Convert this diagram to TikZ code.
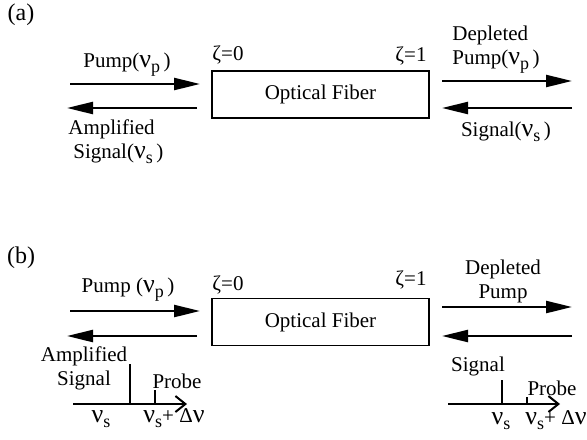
\documentclass[tikz,border=0pt]{standalone}
\usepackage{fontspec}
\setmainfont{Liberation Serif}
\usetikzlibrary{arrows.meta}
\newcommand{\bignu}{{\fontsize{13}{13}\selectfont ν}}
\newcommand{\nusub}[1]{\bignu\raisebox{-0.5ex}{\fontsize{9}{9}\selectfont #1}}

\begin{document}
\begin{tikzpicture}[x=0.5pt, y=-0.5pt,
  font=\fontsize{10.5}{12}\selectfont,
  fiber/.style={draw, line width=0.9pt, minimum width=108.5pt, minimum height=23.5pt, inner sep=0pt},
  beam/.style={line width=1.2pt, -{Triangle[length=13pt,width=6pt]}},
  axis/.style={line width=1pt, -{Straight Barb[length=5pt,width=8pt]}},
  tick/.style={line width=0.6pt},
  lbl/.style={inner sep=0pt}]
\useasboundingbox (0,0) rectangle (587,439);

% (a) pump and signal at opposite ends
\node[lbl, font=\fontsize{12}{12}\selectfont] (pa) at (21,15) {(a)};
\node[fiber] (fa) at (320.5,94.5) {Optical Fiber};
\node[lbl] (za0) at (228,55) {ζ=0};
\node[lbl] (za1) at (411,56) {ζ=1};
\node[lbl] (pumpa) at (127,65) {Pump(\nusub{p}\,)};
\node[lbl, align=left, anchor=west] (amplia) at (68,142) {Amplified\\\hspace{2.5pt}Signal(\nusub{s}\,)};
\node[lbl, align=left, anchor=west] (depla) at (452,50) {Depleted\\Pump(\nusub{p}\,)};
\node[lbl] (siga) at (506,132) {Signal(\nusub{s}\,)};
\coordinate (a1) at (70,84);  \coordinate (a2) at (200,84);
\coordinate (a3) at (197,108); \coordinate (a4) at (67,108);
\coordinate (a5) at (442,81); \coordinate (a6) at (572,81);
\coordinate (a7) at (572,108); \coordinate (a8) at (442,108);
\draw[beam] (a1) -- (a2);
\draw[beam] (a3) -- (a4);
\draw[beam] (a5) -- (a6);
\draw[beam] (a7) -- (a8);

% (b) probe beside the signal
\node[lbl, font=\fontsize{12}{12}\selectfont] (pb) at (21,258) {(b)};
\node[fiber] (fb) at (320.5,322) {Optical Fiber};
\node[lbl] (zb0) at (228,285) {ζ=0};
\node[lbl] (zb1) at (411,280) {ζ=1};
\node[lbl] (pumpb) at (128,290) {Pump (\nusub{p}\,)};
\node[lbl, align=center] (deplb) at (503,281) {Depleted\\Pump};
\coordinate (b1) at (70,311);  \coordinate (b2) at (200,311);
\coordinate (b3) at (197,336); \coordinate (b4) at (67,336);
\coordinate (b5) at (442,307); \coordinate (b6) at (572,307);
\coordinate (b7) at (572,336); \coordinate (b8) at (442,336);
\draw[beam] (b1) -- (b2);
\draw[beam] (b3) -- (b4);
\draw[beam] (b5) -- (b6);
\draw[beam] (b7) -- (b8);

% spectrum at zeta=0
\node[lbl, align=center] (amplib) at (84,368) {Amplified\\Signal};
\node[lbl] (probel) at (177,381) {Probe};
\node[lbl] (nul) at (101,419) {\nusub{s}};
\node[lbl] (nudl) at (174,418) {\nusub{s}+ Δ\bignu};
\coordinate (l0) at (73,404); \coordinate (l1) at (187,404);
\coordinate (ls0) at (130,404); \coordinate (ls1) at (130,364);
\coordinate (lp0) at (155,404); \coordinate (lp1) at (155,390);
\draw[axis] (l0) -- (l1);
\draw[tick] (ls0) -- (ls1);
\draw[tick] (lp0) -- (lp1);

% spectrum at zeta=1
\node[lbl] (sigb) at (478,366) {Signal};
\node[lbl] (prober) at (552,388) {Probe};
\node[lbl] (nur) at (501,421) {\nusub{s}};
\node[lbl] (nudr) at (556,420) {\nusub{s}+ Δ\bignu};
\coordinate (r0) at (448,404); \coordinate (r1) at (560,404);
\coordinate (rs0) at (502,404); \coordinate (rs1) at (502,380);
\coordinate (rp0) at (527,404); \coordinate (rp1) at (527,397);
\draw[axis] (r0) -- (r1);
\draw[tick] (rs0) -- (rs1);
\draw[tick] (rp0) -- (rp1);
\end{tikzpicture}
\end{document}
